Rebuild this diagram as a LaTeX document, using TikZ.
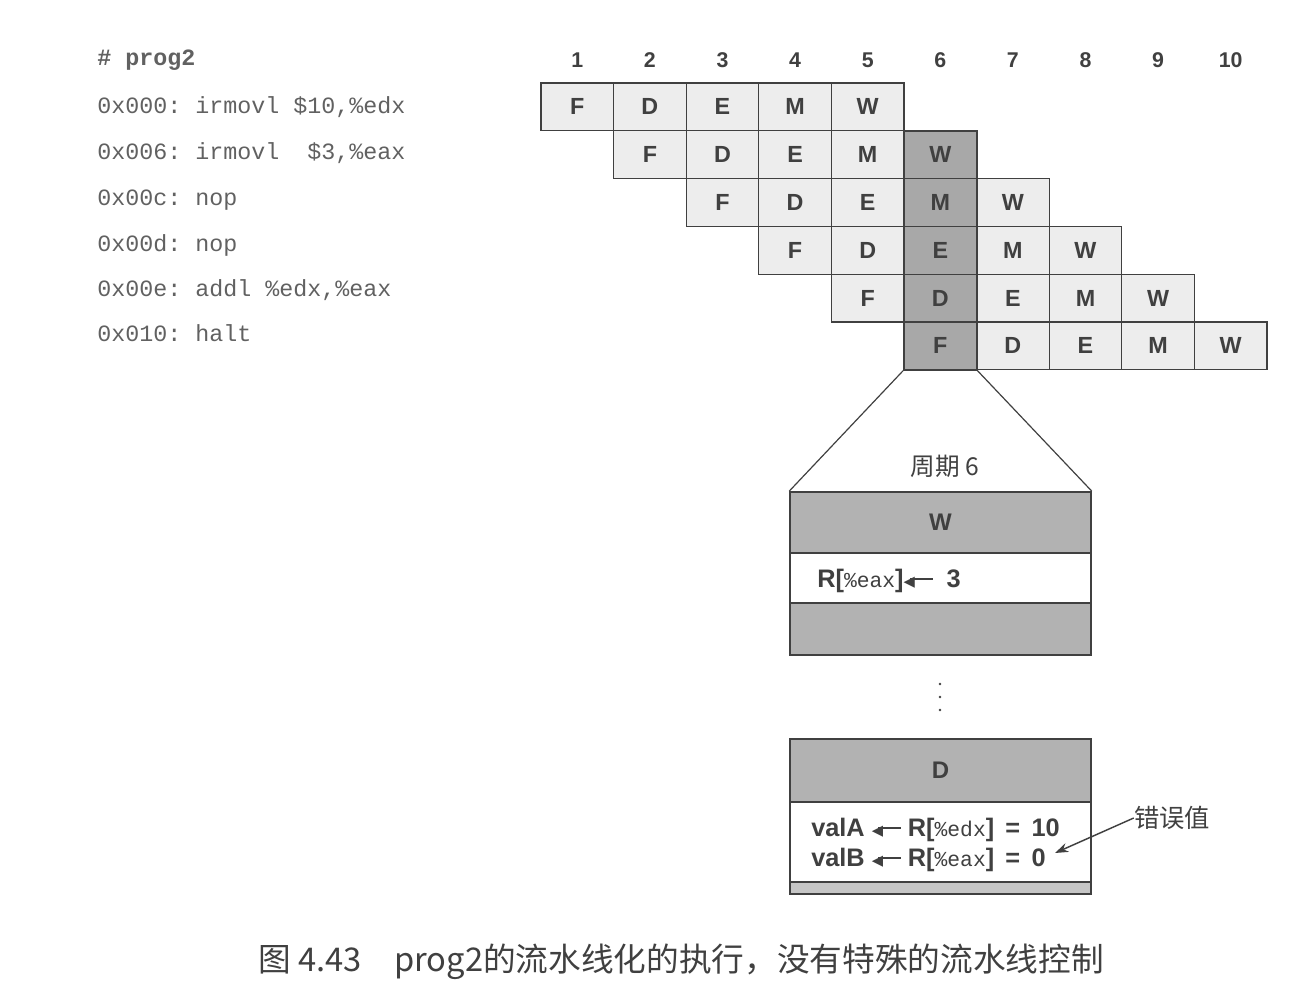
\documentclass[tikz,border=0pt]{standalone}
\usepackage{fontspec}
\setmainfont{Liberation Sans}
\setmonofont{Liberation Mono}
\newfontfamily\cjk{Noto Sans CJK SC}
\newfontfamily\symfont{DejaVu Sans}
\usetikzlibrary{arrows.meta}
\definecolor{ink}{gray}{0.25}
\definecolor{cellgray}{gray}{0.93}
\definecolor{hlgray}{gray}{0.66}
\definecolor{boxgray}{gray}{0.70}
\definecolor{codegray}{gray}{0.38}
% small left arrow with a solid head, as in "R[...] <- 3"
\newcommand{\getsarrow}{\mbox{\raisebox{0.04em}{\symfont\fontsize{11}{11}\selectfont ◀}\kern-0.2em\rule[0.3em]{0.9em}{0.08em}}}
\newcommand{\regname}[1]{{\ttfamily\mdseries\fontsize{16}{16}\selectfont\%#1}}

\begin{document}
\begin{tikzpicture}[x=0.75pt,y=-0.75pt,
  cell/.style={draw=ink, line width=0.9pt, fill=cellgray,
    minimum width=54.45pt, minimum height=35.85pt, inner sep=0pt,
    font=\bfseries\fontsize{17.5}{17.5}\selectfont, text=ink},
  hlcell/.style={cell, fill=hlgray},
  colnum/.style={font=\bfseries\fontsize{16}{16}\selectfont, text=ink, inner sep=0pt},
  code/.style={anchor=base west, inner sep=0pt, text=codegray,
    font=\ttfamily\fontsize{17.5}{17.5}\selectfont},
  panel/.style={draw=ink, line width=1.2pt, minimum width=225.75pt,
    inner sep=0pt, font=\bfseries\fontsize{18}{18}\selectfont, text=ink},
  label/.style={inner sep=0pt, text=ink, font=\bfseries\fontsize{19}{22.5}\selectfont},
]
\useasboundingbox (0,0) rectangle (1300,998);

% program listing
\node[code, font=\ttfamily\bfseries\fontsize{17.5}{17.5}\selectfont] (p0) at (97,66) {\# prog2};
\node[code] (p1) at (97,114) {0x000: irmovl \$10,\%edx};
\node[code] (p2) at (97,160) {0x006: irmovl\ \ \$3,\%eax};
\node[code] (p3) at (97,206) {0x00c: nop};
\node[code] (p4) at (97,252) {0x00d: nop};
\node[code] (p5) at (97,297) {0x00e: addl \%edx,\%eax};
\node[code] (p6) at (97,342) {0x010: halt};

% clock cycle numbers
\foreach \c in {1,...,10}
  \node[colnum] (n\c) at ({541+(\c-0.5)*72.6},60) {\c};

% pipeline stages, one row per instruction
\foreach \r in {1,...,6} {
  \foreach \s [count=\k from 0] in {F,D,E,M,W} {
    \pgfmathtruncatemacro\c{\r+\k}
    \ifnum\c=6 \def\cellstyle{hlcell}\else\def\cellstyle{cell}\fi
    \node[\cellstyle] (c\r-\c) at ({541+(\c-0.5)*72.6},{83+(\r-0.5)*47.8}) {\s};
  }
}
% outline of cycle 6
\node[draw=ink, line width=1.6pt, minimum width=54.45pt, minimum height=179.25pt,
  inner sep=0pt] (hl) at ({541+5.5*72.6},{83+3.5*47.8}) {};

% expanded view of cycle 6
\node[label, font=\cjk\fontsize{18.5}{18.5}\selectfont] (cyc) at (945,466) {周期 6};
\node[panel, fill=boxgray, minimum height=45.75pt] (wtop) at (940.5,522.5) {W};
\node[panel, fill=white, minimum height=37.5pt] (wmid) at (940.5,578) {};
\node[panel, fill=boxgray, minimum height=39pt] (wbot) at (940.5,629) {};
\node[label, anchor=west] (wtxt) at (817,581) {R[\regname{eax}]\getsarrow\ \ 3};

\draw[ink, line width=0.9pt] (hl.south west) -- (wtop.north west);
\draw[ink, line width=0.9pt] (hl.south east) -- (wtop.north east);

\foreach \yy in {684,697,710}
  \fill[ink] (940,\yy) circle (1.4);

\node[panel, fill=boxgray, minimum height=47.25pt] (dtop) at (940.5,770.5) {D};
\node[panel, fill=white, minimum height=60pt] (dmid) at (940.5,842) {};
\node[panel, fill=gray!45, minimum height=9pt] (dbot) at (940.5,888) {};
\node[label, anchor=west, align=left] (dtxt) at (811,845)
  {valA \getsarrow\ R[\regname{edx}]\,\ =\ \,10\\valB \getsarrow\ R[\regname{eax}]\,\ =\ \,0};

% wrong value callout
\node[label, font=\cjk\fontsize{19}{19}\selectfont] (err) at (1172,818) {错误值};
\coordinate (errtip) at (1055,853);
\draw[ink, line width=1.1pt, -{Stealth[length=10pt,width=7pt]}] (err.west) -- (errtip);

% caption
\node[inner sep=0pt, text=ink, font=\cjk\fontsize{24.5}{24.5}\selectfont] (cap) at (681,962)
  {图 4.43\quad prog2的流水线化的执行，没有特殊的流水线控制};
\end{tikzpicture}
\end{document}
